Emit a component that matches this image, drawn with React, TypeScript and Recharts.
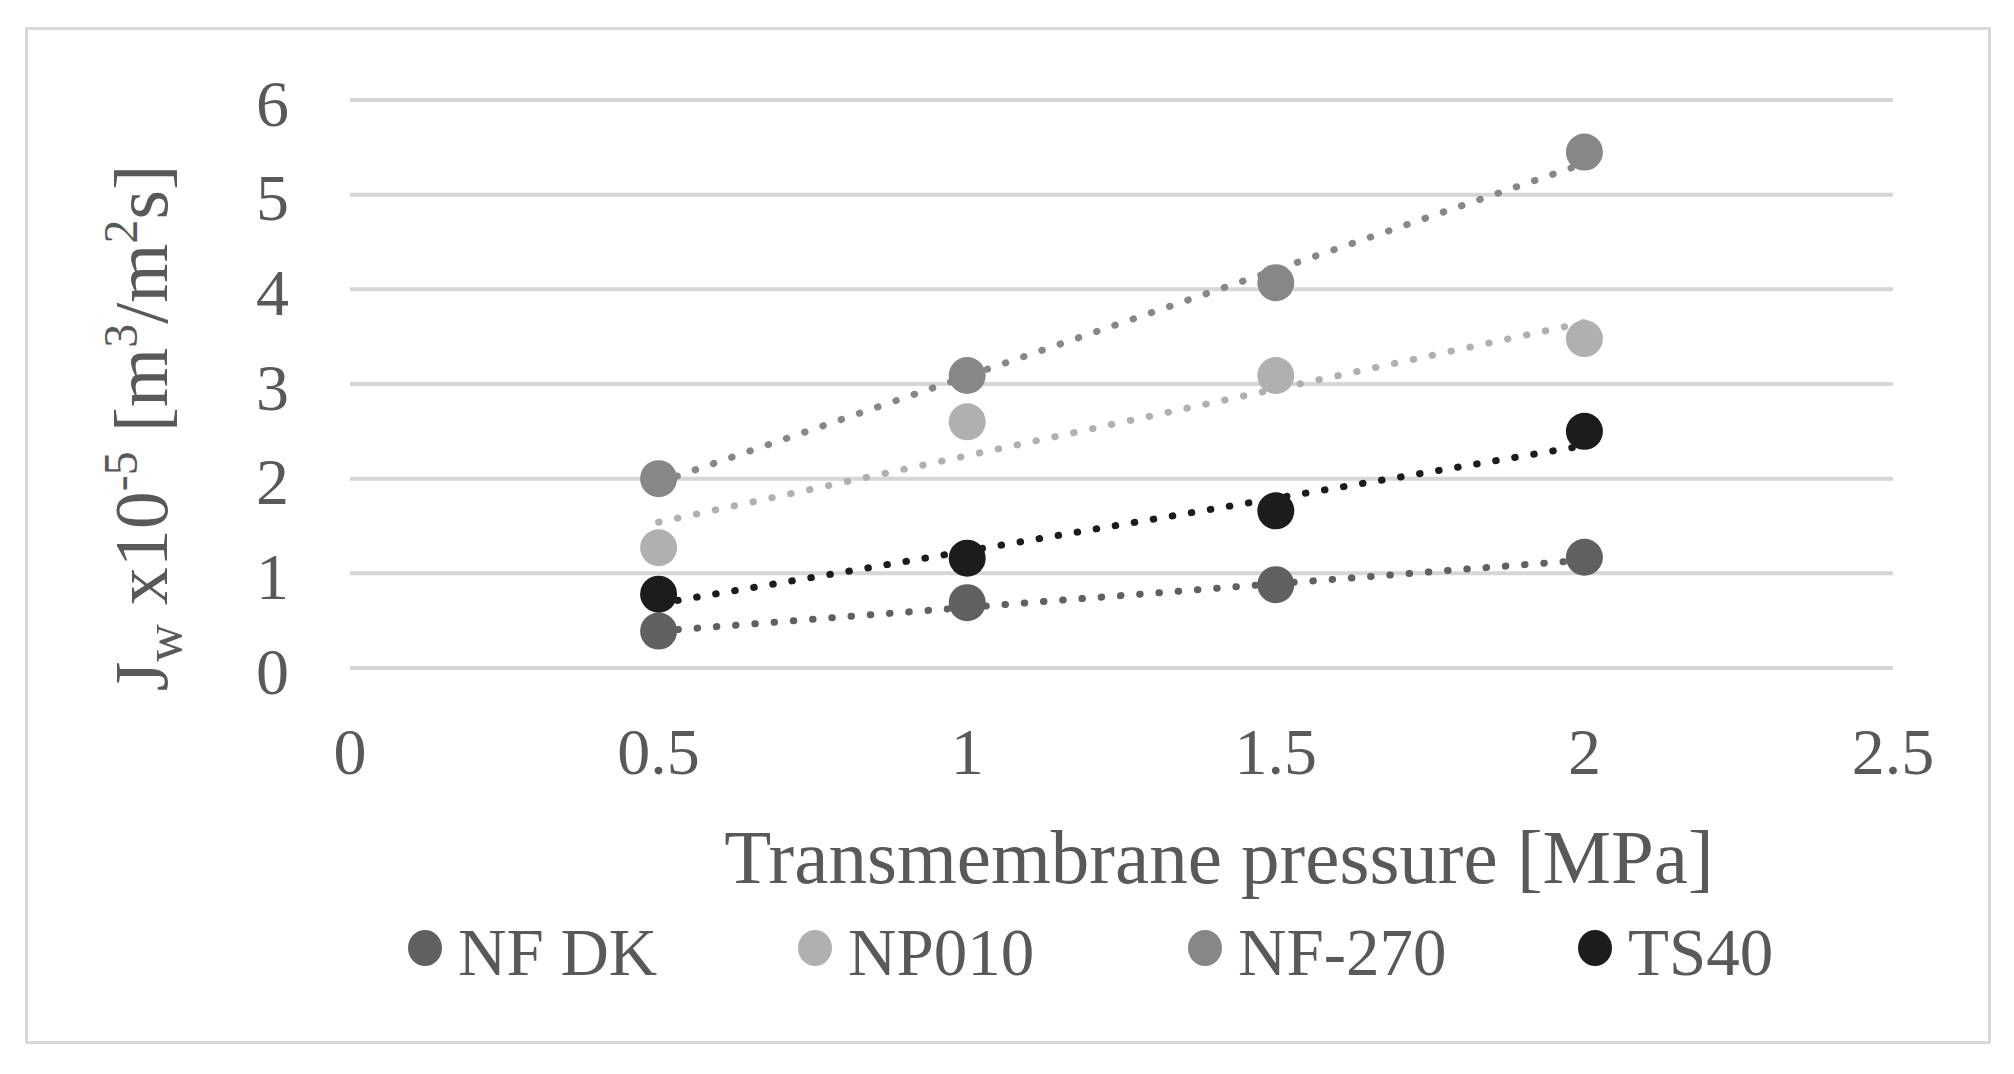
import React from "react";
import {
  ScatterChart,
  Scatter,
  XAxis,
  YAxis,
  CartesianGrid,
  ReferenceLine,
} from "recharts";

// pressure in MPa
const pressure = [0.5, 1, 1.5, 2];
const xTicks = [0, 0.5, 1, 1.5, 2, 2.5];
const yTicks = [0, 1, 2, 3, 4, 5, 6];

// Jw x10^-5 values
const nfDk = [0.39, 0.69, 0.88, 1.17];
const np010 = [1.27, 2.6, 3.09, 3.48];
const nf270 = [2.0, 3.09, 4.07, 5.45];
const ts40 = [0.78, 1.16, 1.66, 2.5];

// linear trendline end points (at 0.5 and 2 MPa)
const trendX = [0.5, 2];
const nfDkTrend = [0.39, 1.14];
const np010Trend = [1.54, 3.65];
const nf270Trend = [1.96, 5.33];
const ts40Trend = [0.68, 2.35];

const series = [
  { name: "NF DK", values: nfDk, trend: nfDkTrend, color: "#606060" },
  { name: "NP010", values: np010, trend: np010Trend, color: "#b0b0b0" },
  { name: "NF-270", values: nf270, trend: nf270Trend, color: "#878787" },
  { name: "TS40", values: ts40, trend: ts40Trend, color: "#1c1c1c" },
];

const FONT = "'Liberation Serif', 'Times New Roman', serif";
const TEXT = "#595959";

const XTick = (props: any) => (
  <text
    x={props.x}
    y={props.y + 83}
    textAnchor="middle"
    dominantBaseline="central"
    fontFamily={FONT}
    fontSize={66}
    fill={TEXT}
  >
    {String(props.payload.value)}
  </text>
);

const YTick = (props: any) => (
  <text
    x={props.x - 61}
    y={props.y + 3}
    textAnchor="end"
    dominantBaseline="central"
    fontFamily={FONT}
    fontSize={66}
    fill={TEXT}
  >
    {String(props.payload.value)}
  </text>
);

const XTitle = () => (
  <text
    x={1219}
    y={883}
    textAnchor="middle"
    fontFamily={FONT}
    fontSize={77}
    fill={TEXT}
  >
    Transmembrane pressure [MPa]
  </text>
);

const YTitle = () => (
  <text
    x={167}
    y={428}
    transform="rotate(-90 167 428)"
    textAnchor="middle"
    fontFamily={FONT}
    fontSize={76}
    fill={TEXT}
  >
    J
    <tspan fontSize={52} dy={14}>
      w
    </tspan>
    <tspan fontSize={76} dy={-14}>
      {" x10"}
    </tspan>
    <tspan fontSize={48} dy={-30}>
      -5
    </tspan>
    <tspan fontSize={76} dy={30}>
      {" [m"}
    </tspan>
    <tspan fontSize={48} dy={-30}>
      3
    </tspan>
    <tspan fontSize={76} dy={30}>
      /m
    </tspan>
    <tspan fontSize={48} dy={-30}>
      2
    </tspan>
    <tspan fontSize={76} dy={30}>
      s]
    </tspan>
  </text>
);

function LegendRow() {
  return (
    <div
      style={{
        position: "absolute",
        left: 408,
        top: 919,
        height: 67,
        display: "flex",
        fontFamily: FONT,
        fontSize: 67,
        lineHeight: "67px",
        color: TEXT,
      }}
    >
      {series.map((s) => (
        <div
          key={s.name}
          style={{ width: 390, display: "flex", alignItems: "center" }}
        >
          <span
            style={{
              width: 34,
              height: 36,
              borderRadius: "50%",
              background: s.color,
              marginRight: 16,
              position: "relative",
              top: -5,
              flex: "none",
            }}
          />
          <span style={{ whiteSpace: "nowrap" }}>{s.name}</span>
        </div>
      ))}
    </div>
  );
}

export default function App() {
  return (
    <div
      style={{
        position: "absolute",
        left: 0,
        top: 0,
        width: 2014,
        height: 1074,
        background: "#ffffff",
      }}
    >
      <div
        style={{
          position: "absolute",
          left: 25,
          top: 27,
          width: 1966,
          height: 1017,
          border: "3px solid #d9d9d9",
          boxSizing: "border-box",
        }}
      />
      <div style={{ position: "absolute", left: 0, top: 0 }}>
        <ScatterChart
          width={2014}
          height={1074}
          margin={{ top: 100, right: 121, bottom: 306, left: 250 }}
        >
          <CartesianGrid
            horizontal
            vertical={false}
            stroke="#d6d6d6"
            strokeWidth={4}
          />
          <XAxis
            type="number"
            dataKey="x"
            domain={[0, 2.5]}
            ticks={xTicks}
            interval={0}
            axisLine={false}
            tickLine={false}
            tickSize={0}
            tickMargin={0}
            height={100}
            tick={<XTick />}
            label={<XTitle />}
          />
          <YAxis
            type="number"
            dataKey="y"
            domain={[0, 6]}
            ticks={yTicks}
            interval={0}
            axisLine={false}
            tickLine={false}
            tickSize={0}
            tickMargin={0}
            width={100}
            tick={<YTick />}
            label={<YTitle />}
          />
          {series.map((s) => (
            <ReferenceLine
              key={s.name + "-trend"}
              segment={[
                { x: trendX[0], y: s.trend[0] },
                { x: trendX[1], y: s.trend[1] },
              ]}
              stroke={s.color}
              strokeWidth={7}
              strokeDasharray="0.5 18.8"
              strokeLinecap="round"
            />
          ))}
          {series.map((s) => (
            <Scatter
              key={s.name}
              name={s.name}
              data={pressure.map((x, i) => ({ x, y: s.values[i] }))}
              fill={s.color}
              isAnimationActive={false}
              shape={(p: any) => (
                <circle cx={p.cx} cy={p.cy} r={18.5} fill={s.color} />
              )}
            />
          ))}
        </ScatterChart>
      </div>
      <LegendRow />
    </div>
  );
}
